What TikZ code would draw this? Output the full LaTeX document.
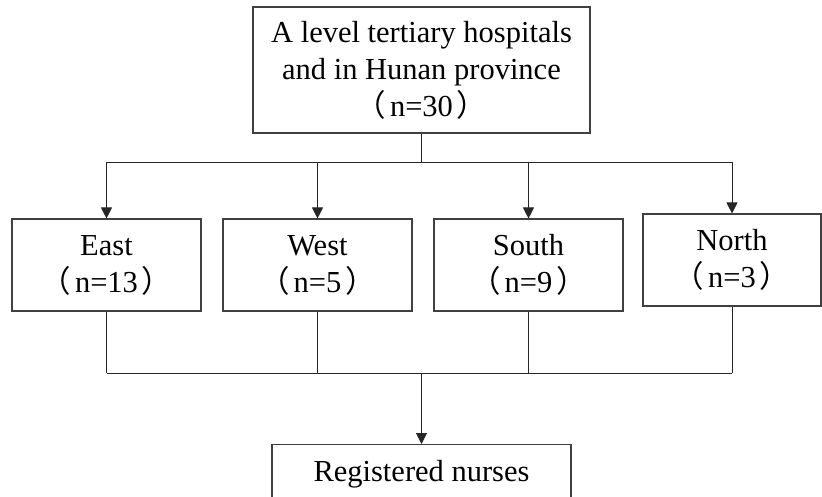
\documentclass[tikz,border=0pt]{standalone}
\usepackage{fontspec}
\setmainfont{Liberation Serif}
\newfontfamily\cjk{Noto Sans CJK SC}
\usetikzlibrary{arrows.meta}
\newcommand{\lp}{{\cjk （}\kern4pt}
\newcommand{\rp}{\kern4pt{\cjk ）}}
\begin{document}
\begin{tikzpicture}[x=1pt,y=-1pt,
  box/.style={draw=black!75,line width=1.1pt,rectangle,align=center,inner sep=0pt,
    font=\fontsize{30.5}{37}\selectfont},
  conn/.style={draw=black!85,line width=0.9pt},
  arr/.style={conn,-{Triangle[length=11pt,width=11pt]}}]
\useasboundingbox (0,0) rectangle (822,497);
\fill[white] (0,0) rectangle (822,497);
\node[box,minimum width=337pt,minimum height=126pt] (top) at (421.5,70)
  {A level tertiary hospitals\\and in Hunan province\\\lp n=30\rp};
\node[box,minimum width=189pt,minimum height=92pt] (east) at (106.5,265) {East\\\lp n=13\rp};
\node[box,minimum width=189pt,minimum height=92pt] (west) at (317.5,265) {West\\\lp n=5\rp};
\node[box,minimum width=189pt,minimum height=92pt] (south) at (528.5,265) {South\\\lp n=9\rp};
\node[box,minimum width=178pt,minimum height=92pt] (north) at (732,260) {North\\\lp n=3\rp};
\node[box,minimum width=299pt,anchor=north,text height=29pt,text depth=40pt,inner ysep=8pt] (reg) at (421.5,444) {Registered nurses};
\coordinate (j1) at (421.5,162);
\coordinate (j2) at (421.5,373);
% top fan-out
\draw[conn] (top.south) -- (j1);
\draw[conn] (east.north |- j1) -- (north.north |- j1);
\draw[arr] (east.north |- j1) -- (east.north);
\draw[arr] (west.north |- j1) -- (west.north);
\draw[arr] (south.north |- j1) -- (south.north);
\draw[arr] (north.north |- j1) -- (north.north);
% bottom fan-in
\draw[conn] (east.south) -- (east.south |- j2);
\draw[conn] (west.south) -- (west.south |- j2);
\draw[conn] (south.south) -- (south.south |- j2);
\draw[conn] (north.south) -- (north.south |- j2);
\draw[conn] (east.south |- j2) -- (north.south |- j2);
\draw[arr] (j2) -- (reg.north);
\end{tikzpicture}
\end{document}
